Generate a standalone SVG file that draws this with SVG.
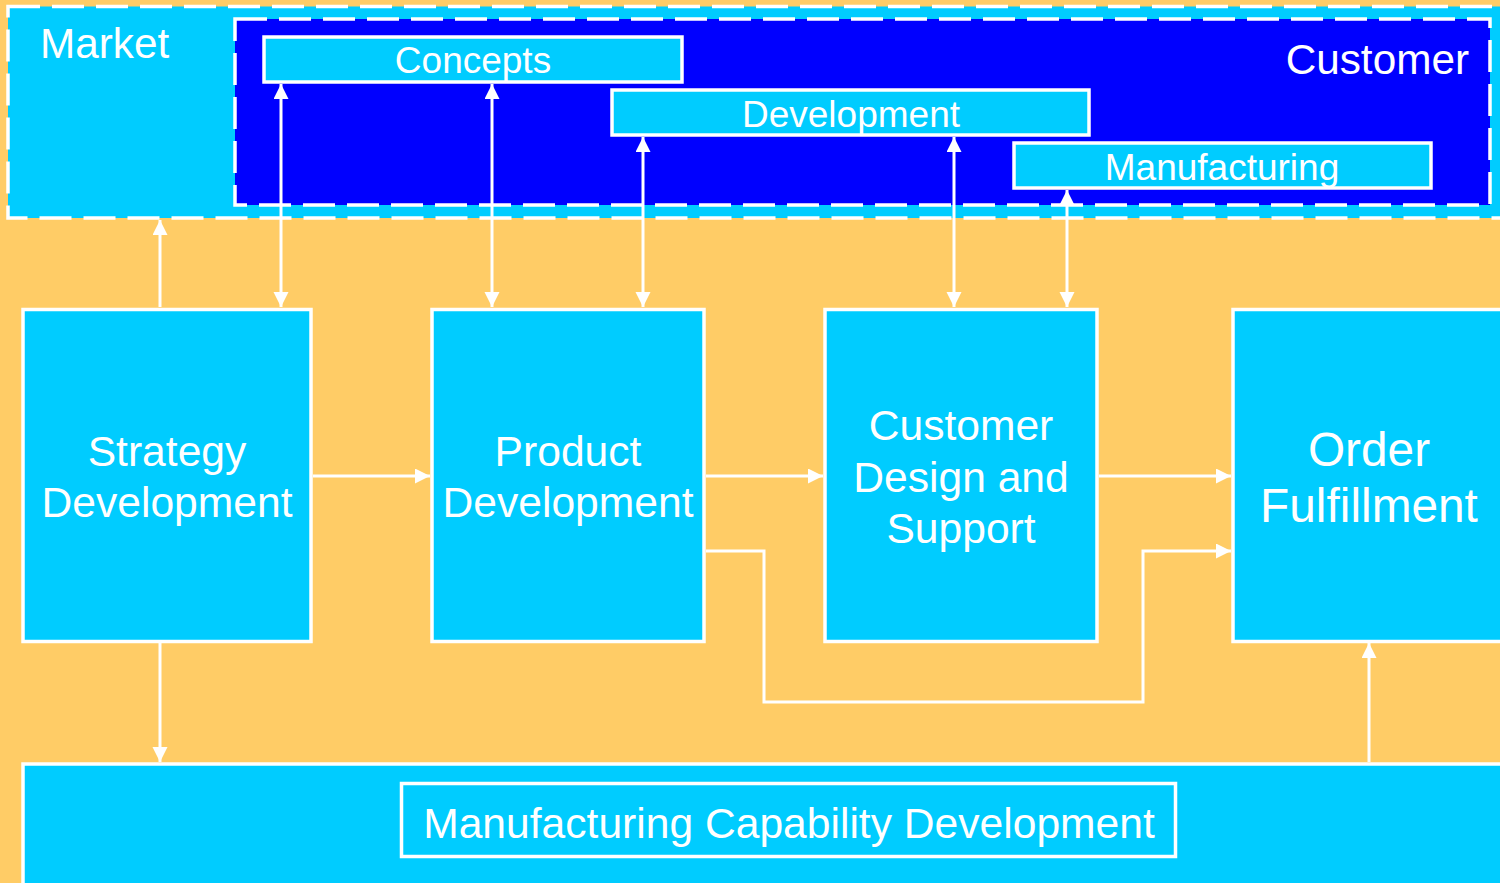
<svg xmlns="http://www.w3.org/2000/svg" width="1500" height="883" viewBox="0 0 1500 883">
  <style>
    .bg { fill: #FFCC66; }
    .box { fill: #00CCFF; stroke: #FFFFFF; stroke-width: 3.5; }
    .dash { stroke: #FFFFFF; stroke-width: 3.5; stroke-dasharray: 32 12; }
    .lbl { font-family: "Liberation Sans", Arial, sans-serif; fill: #FFFFFF; }
    .c { text-anchor: middle; }
    .conn { fill: none; stroke: #FFFFFF; stroke-width: 3; }
  </style>
  <defs>
    <marker id="arrow" markerUnits="userSpaceOnUse" markerWidth="16" markerHeight="16" viewBox="0 0 16 16" refX="15" refY="7.5" orient="auto-start-reverse">
      <path d="M0,0 L15,7.5 L0,15 Z" fill="#FFFFFF"/>
    </marker>
  </defs>

  <rect class="bg" x="0" y="0" width="1500" height="883"/>

  <!-- Market region -->
  <g id="market">
    <rect class="dash" x="8" y="6.5" width="1510" height="211.5" fill="#00CCFF"/>
    <text class="lbl" x="40" y="58" font-size="42.3">Market</text>
  </g>

  <!-- Customer region -->
  <g id="customer">
    <rect class="dash" x="235" y="19" width="1255" height="186" fill="#0000FF"/>
    <text class="lbl" x="1469" y="74" font-size="42.3" text-anchor="end">Customer</text>
  </g>

  <g id="concepts">
    <rect class="box" x="264" y="37" width="418" height="45"/>
    <text class="lbl c" x="473" y="73" font-size="37">Concepts</text>
  </g>

  <g id="development">
    <rect class="box" x="612" y="90" width="477" height="45"/>
    <text class="lbl c" x="851" y="127" font-size="37">Development</text>
  </g>

  <g id="manufacturing">
    <rect class="box" x="1014" y="143" width="417" height="45"/>
    <text class="lbl c" x="1222" y="180" font-size="37">Manufacturing</text>
  </g>

  <g id="strategy-development">
    <rect class="box" x="23" y="309.5" width="288" height="332"/>
    <text class="lbl c" x="167" y="466" font-size="42.6">Strategy</text>
    <text class="lbl c" x="167" y="517" font-size="42.6">Development</text>
  </g>

  <g id="product-development">
    <rect class="box" x="432" y="309.5" width="272" height="332"/>
    <text class="lbl c" x="568" y="466" font-size="42.6">Product</text>
    <text class="lbl c" x="568" y="517" font-size="42.6">Development</text>
  </g>

  <g id="customer-design-support">
    <rect class="box" x="825" y="309.5" width="272" height="332"/>
    <text class="lbl c" x="961" y="440" font-size="42.6">Customer</text>
    <text class="lbl c" x="961" y="492" font-size="42.6">Design and</text>
    <text class="lbl c" x="961" y="543" font-size="42.6">Support</text>
  </g>

  <g id="order-fulfillment">
    <rect class="box" x="1233" y="309.5" width="290" height="332"/>
    <text class="lbl c" x="1369" y="466" font-size="47.8">Order</text>
    <text class="lbl c" x="1369" y="522" font-size="47.8">Fulfillment</text>
  </g>

  <g id="manufacturing-capability-development">
    <rect class="box" x="23" y="764" width="1500" height="140"/>
    <rect class="box" x="401.5" y="783.5" width="774" height="73"/>
    <text class="lbl c" x="789" y="838" font-size="42.6">Manufacturing Capability Development</text>
  </g>

  <!-- Connectors -->
  <g id="connectors">
    <line class="conn" x1="160" y1="307" x2="160" y2="220" marker-end="url(#arrow)"/>
    <line class="conn" x1="281" y1="84" x2="281" y2="307" marker-start="url(#arrow)" marker-end="url(#arrow)"/>
    <line class="conn" x1="492" y1="84" x2="492" y2="307" marker-start="url(#arrow)" marker-end="url(#arrow)"/>
    <line class="conn" x1="643" y1="137" x2="643" y2="307" marker-start="url(#arrow)" marker-end="url(#arrow)"/>
    <line class="conn" x1="954" y1="137" x2="954" y2="307" marker-start="url(#arrow)" marker-end="url(#arrow)"/>
    <line class="conn" x1="1067" y1="190" x2="1067" y2="307" marker-start="url(#arrow)" marker-end="url(#arrow)"/>
    <line class="conn" x1="313" y1="476" x2="430" y2="476" marker-end="url(#arrow)"/>
    <line class="conn" x1="706" y1="476" x2="823" y2="476" marker-end="url(#arrow)"/>
    <line class="conn" x1="1099" y1="476" x2="1231" y2="476" marker-end="url(#arrow)"/>
    <polyline class="conn" points="706,551 764,551 764,702 1143,702 1143,551 1231,551" marker-end="url(#arrow)"/>
    <line class="conn" x1="160" y1="643" x2="160" y2="762" marker-end="url(#arrow)"/>
    <line class="conn" x1="1369" y1="762" x2="1369" y2="643" marker-end="url(#arrow)"/>
  </g>
</svg>
